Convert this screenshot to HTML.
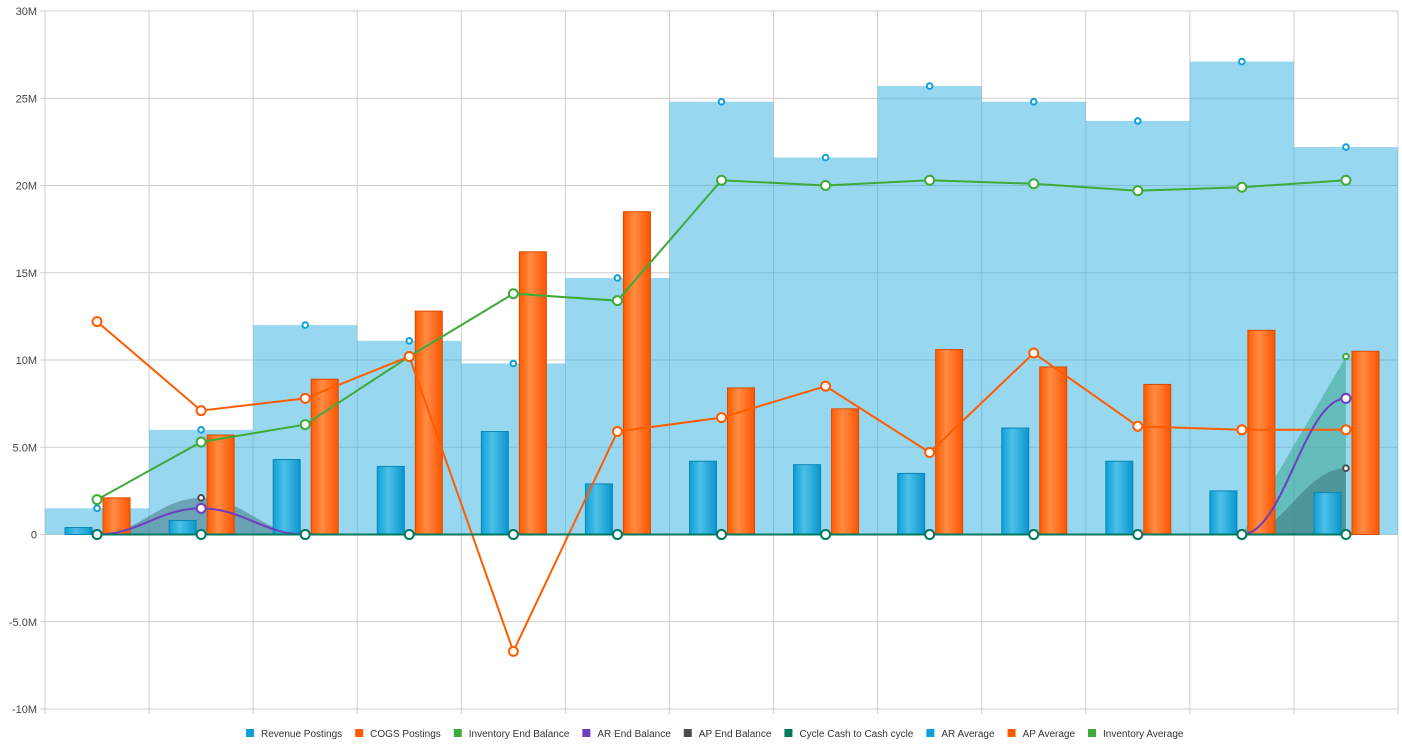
<!DOCTYPE html>
<html><head><meta charset="utf-8"><style>
body{margin:0;background:#fff;font-family:"Liberation Sans",sans-serif}
svg{display:block}
</style></head><body>
<svg id="c" width="1402" height="748">
<defs>
<linearGradient id="gb" x1="0" x2="1"><stop offset="0" stop-color="#0f9fd6"/><stop offset="0.4" stop-color="#4cc0ea"/><stop offset="1" stop-color="#0b96cc"/></linearGradient>
<linearGradient id="go" x1="0" x2="1"><stop offset="0" stop-color="#ff5c00"/><stop offset="0.4" stop-color="#ff8c45"/><stop offset="1" stop-color="#ff5500"/></linearGradient>
</defs>
</svg>
<script>
const categories=["1","2","3","4","5","6","7","8","9","10","11","12","13"];
const revenue=[0.4,0.8,4.3,3.9,5.9,2.9,4.2,4.0,3.5,6.1,4.2,2.5,2.4];
const cogs=[2.1,5.7,8.9,12.8,16.2,18.5,8.4,7.2,10.6,9.6,8.6,11.7,10.5];
const invEnd=[2.0,5.3,6.3,10.2,13.8,13.4,20.3,20.0,20.3,20.1,19.7,19.9,20.3];
const arEnd=[0,1.5,0,0,0,0,0,0,0,0,0,0,7.8];
const apEnd=[0,2.1,0,0,0,0,0,0,0,0,0,0,3.8];
const cycle=[0,0,0,0,0,0,0,0,0,0,0,0,0];
const arAvg=[1.5,6.0,12.0,11.1,9.8,14.7,24.8,21.6,25.7,24.8,23.7,27.1,22.2];
const apAvg=[12.2,7.1,7.8,10.2,-6.7,5.9,6.7,8.5,4.7,10.4,6.2,6.0,6.0];
const invAvg=[0,0,0,0,0,0,0,0,0,0,0,0,10.2];
const yTicks=[30,25,20,15,10,5,0,-5,-10];
const yLabels=["30M","25M","20M","15M","10M","5.0M","0","-5.0M","-10M"];
const legendNames=["Revenue Postings","COGS Postings","Inventory End Balance","AR End Balance","AP End Balance","Cycle Cash to Cash cycle","AR Average","AP Average","Inventory Average"];
const legendColors=["#0fa0d8","#ff5c00","#3eaa38","#6b3fbf","#4a4a4a","#007a5e","#0fa0d8","#ff5c00","#3eaa38"];

const svg=document.getElementById('c');const NS="http://www.w3.org/2000/svg";
const L=45,R=1398,T=11,B=709,yMin=-10,yMax=30;
const cw=(R-L)/categories.length;
const X=i=>L+cw*(i+0.5);
const Y=v=>T+(yMax-v)/(yMax-yMin)*(B-T);
function el(t,a,p){const e=document.createElementNS(NS,t);for(const k in a)e.setAttribute(k,a[k]);(p||svg).appendChild(e);return e;}
function spline(vals){let d=`M${X(0)},${Y(vals[0])}`;for(let i=1;i<vals.length;i++){const x0=X(i-1),x1=X(i),dx=(x1-x0)/2.5;d+=` C${x0+dx},${Y(vals[i-1])} ${x1-dx},${Y(vals[i])} ${x1},${Y(vals[i])}`;}return d;}
// grid
for(let i=0;i<=categories.length;i++){const g=el('line',{x1:L+cw*i,x2:L+cw*i,y1:T,y2:B+5,stroke:'#cfcfcf'});}
yTicks.forEach((v,i)=>{const g=el('line',{x1:L-5,x2:R,y1:Y(v),y2:Y(v),stroke:'#cfcfcf'});
const t=el('text',{x:L-8,y:Y(v)+4,'text-anchor':'end','font-size':11,fill:'#444'});t.textContent=yLabels[i];});
// AR average step area
arAvg.forEach((v,i)=>{const r=el('rect',{x:L+cw*i,y:Y(v),width:cw,height:Y(0)-Y(v),fill:'#1ba6dd','fill-opacity':0.45});});
// inventory avg area (linear)
{let d=`M${X(0)},${Y(0)}`;invAvg.forEach((v,i)=>d+=` L${X(i)},${Y(v)}`);d+=` L${X(invAvg.length-1)},${Y(0)}Z`;const p=el('path',{d,fill:'#3aa88f','fill-opacity':0.55});}
// AP end area (spline)
{const p=el('path',{d:spline(apEnd)+` L${X(apEnd.length-1)},${Y(0)} L${X(0)},${Y(0)}Z`,fill:'#3a6f7a','fill-opacity':0.5});}
// bars
const bw=27;
revenue.forEach((v,i)=>{const r=el('rect',{x:X(i)-32,y:Y(v),width:bw,height:Y(0)-Y(v),fill:'url(#gb)',stroke:'#0a86b8'});});
cogs.forEach((v,i)=>{const r=el('rect',{x:X(i)+6,y:Y(v),width:bw,height:Y(0)-Y(v),fill:'url(#go)',stroke:'#d94a00'});});
// lines
function line(vals,col,name,smooth){const d=smooth?spline(vals):vals.map((v,i)=>(i?'L':'M')+X(i)+','+Y(v)).join(' ');const p=el('path',{d,fill:'none',stroke:col,'stroke-width':2});}
function dots(vals,col,name,r){vals.forEach((v,i)=>{const c=el('circle',{cx:X(i),cy:Y(v),r,fill:'#fff',stroke:col,'stroke-width':2});});}
line(invEnd,'#3eaa38','inventory-end-line');
line(apAvg,'#ff5c00','ap-average-line');
line(arEnd,'#6b3fbf','ar-end-line',true);
line(cycle,'#007a5e','cycle-line');
dots(arAvg,'#0fa0d8','ar-average-marker',2.8);
dots([apEnd[1],apEnd[12]].length?apEnd:[],'#4a4a4a','ap-end-marker',2.8);
dots(invAvg,'#3eaa38','inventory-average-marker',2.8);
dots(invEnd,'#3eaa38','inventory-end-marker',4.5);
dots(apAvg,'#ff5c00','ap-average-marker',4.5);
dots(arEnd,'#6b3fbf','ar-end-marker',4.5);
dots(cycle,'#007a5e','cycle-marker',4.5);
// legend
const lg=el('g',{});
let lx=246;legendNames.forEach((n,i)=>{const g=el('g',{},lg);
el('rect',{x:lx,y:729,width:8,height:8,fill:legendColors[i]},g);
const t=el('text',{x:lx+15,y:737,'font-size':10,fill:'#333'},g);t.textContent=n;lx+=15+t.getComputedTextLength()+13;});
</script>
</body></html>
